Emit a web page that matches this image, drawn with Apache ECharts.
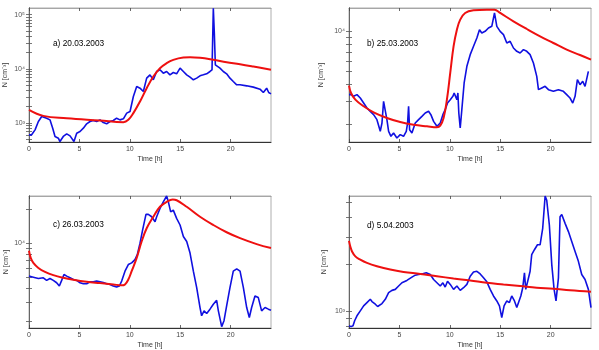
<!DOCTYPE html>
<html>
<head>
<meta charset="utf-8">
<script src="https://cdn.jsdelivr.net/npm/echarts@6/dist/echarts.min.js"></script>
<style>
html, body { margin: 0; padding: 0; background: #fff; }
#chart { width: 599px; height: 350px; }
</style>
</head>
<body>
<div id="chart"></div>
<script>
// x ticks (hours)
const xTickValues = [0, 5, 10, 15, 20];

// a) 20.03.2003
const timeMeasA = [0.00,0.26,0.60,0.93,1.26,1.42,1.75,2.08,2.35,2.58,2.91,3.07,3.40,3.74,4.07,4.23,4.46,4.73,5.06,5.39,5.72,6.05,6.38,6.71,7.04,7.37,7.70,8.03,8.36,8.69,9.02,9.36,9.69,10.02,10.35,10.68,11.01,11.34,11.67,12.00,12.33,12.66,12.99,13.32,13.65,13.98,14.31,14.64,14.98,15.31,15.64,15.97,16.30,16.63,16.96,17.29,17.62,17.95,18.15,18.28,18.38,18.48,18.61,18.94,19.27,19.60,19.93,20.26,20.60,20.93,21.59,22.25,22.91,23.24,23.57,23.77,24.00];
const measA = [605,605,748,1067,1318,1282,1227,1143,803,564,525,455,564,631,579,605,455,649,697,803,966,1067,1112,1067,1143,1021,966,1067,1112,1227,1143,1194,1521,1631,3083,4721,4395,3819,6730,7745,6266,8933,9594,8318,8933,7745,8551,8091,10280,8933,7745,7015,6266,6730,7430,7745,8091,8933,9594,131800,45500,11860,11040,10280,8933,8091,6730,5834,5070,5070,4853,4592,4217,3656,4395,3656,3451];
const timeModA = [0,1.42,3.74,7.04,9.36,9.85,10.35,11.01,11.67,12.33,12.99,13.65,14.31,15.31,15.97,16.96,18.28,19.60,20.93,22.25,24.00];
const modA = [1750,1355,1227,1112,1035,1143,1521,2495,4395,7211,10280,12730,14660,16190,16410,15960,14660,13270,12190,11040,9594];
const yLabelsA = [1000, 10000, 100000];

// b) 25.03.2003
const timeMeasB = [0.00,0.20,0.46,0.79,1.12,1.45,1.78,2.11,2.44,2.77,3.10,3.27,3.43,3.60,3.76,3.93,4.16,4.42,4.75,5.08,5.41,5.68,5.81,5.91,6.01,6.24,6.57,6.90,7.23,7.56,7.89,8.12,8.39,8.72,9.05,9.31,9.54,9.77,10.04,10.30,10.43,10.70,10.80,10.89,11.03,11.19,11.42,11.69,12.02,12.35,12.68,12.94,13.17,13.50,13.83,14.16,14.43,14.66,14.99,15.32,15.65,15.98,16.31,16.64,16.97,17.30,17.63,17.96,18.29,18.62,18.79,19.12,19.45,19.78,20.27,20.77,21.26,21.59,21.92,22.19,22.42,22.65,22.91,23.18,23.41,23.74];
const measB = [3350,3350,3254,3350,3162,2900,2661,2512,2371,2175,1778,2053,2985,2900,2175,1778,1631,1728,1585,1679,1631,1778,2053,2739,1830,1728,2053,2175,2304,2441,2512,2371,2113,1939,2053,2371,2585,2900,3073,3254,3448,3073,3448,2441,1884,2585,4098,5464,6683,7720,8913,10290,9716,10000,10590,10900,13730,10900,10000,9441,8176,8414,7499,7079,6879,7289,7079,6683,5788,4597,3652,3758,3868,3652,3548,3652,3548,3350,3162,2900,3254,4341,3981,4217,3868,5012];
const timeModB = [0,0.20,0.63,1.45,2.44,3.76,5.08,6.40,7.73,8.72,9.05,9.38,9.71,10.04,10.37,10.70,11.03,11.52,12.35,13.67,14.43,14.99,16.31,17.63,18.95,20.27,21.59,22.91,24.00];
const modB = [3914,3449,3073,2740,2469,2239,2089,1995,1939,1905,1961,2239,3073,4870,7720,10290,12230,13730,14370,14540,14540,13730,11890,10410,9173,8176,7289,6646,6132];
const yLabelsB = [10000];

// c) 26.03.2003
const timeMeasC = [0,0.43,0.93,1.42,1.75,2.08,2.41,2.74,3.01,3.24,3.47,3.74,4.07,4.40,4.73,5.06,5.39,5.72,6.05,6.38,6.71,7.04,7.37,7.70,8.03,8.36,8.69,8.96,9.19,9.52,9.85,10.18,10.51,10.74,11.01,11.27,11.60,11.83,12.17,12.50,12.66,12.99,13.32,13.65,13.82,14.05,14.31,14.64,14.98,15.31,15.64,15.97,16.30,16.63,16.96,17.12,17.36,17.62,17.95,18.28,18.61,18.78,19.11,19.34,19.60,19.93,20.26,20.60,20.93,21.26,21.59,21.85,22.08,22.41,22.74,23.07,23.41,23.74,24.00];
const measC = [5082,4977,4842,4912,4656,4842,4656,4436,4150,4656,5260,5082,4912,4742,4656,4436,4345,4345,4532,4532,4592,4532,4467,4345,4289,4150,4064,4150,4592,5623,6442,6668,7125,7889,10000,13120,18030,18030,17180,15520,17180,20370,23330,26300,23330,19010,19670,16630,14510,11460,10340,8160,5623,4009,2669,2254,2495,2364,2582,2858,3097,2495,1803,2037,2761,4009,5623,5902,5623,4009,2669,2178,2669,3381,3273,2495,2669,2582,2529];
const timeModC = [0,0.17,0.43,0.93,1.59,2.41,3.40,4.40,5.72,7.04,8.36,9.19,9.52,9.85,10.18,10.68,11.17,11.67,12.33,12.99,13.65,14.25,14.64,15.64,16.96,18.28,19.60,20.93,22.58,24.00];
const modC = [8556,7383,6668,6014,5543,5184,4912,4721,4532,4407,4289,4206,4289,4742,5623,7383,10340,13560,17180,21080,23330,24450,24100,21080,17180,14510,12500,11070,9797,9036];
const yLabelsC = [10000];

// d) 5.04.2003
const timeMeasD = [0,0.20,0.40,0.56,0.79,1.12,1.45,1.78,2.11,2.28,2.61,2.84,3.27,3.60,3.93,4.26,4.59,4.92,5.25,5.74,6.24,6.57,6.90,7.23,7.66,8.06,8.39,8.72,9.05,9.31,9.54,9.77,10.04,10.37,10.70,11.03,11.36,11.69,12.02,12.35,12.68,13.01,13.34,13.67,14.00,14.33,14.66,14.92,15.15,15.38,15.65,15.91,16.14,16.41,16.64,16.80,17.04,17.23,17.40,17.53,17.70,17.96,18.12,18.39,18.69,18.95,19.21,19.45,19.61,19.87,20.11,20.34,20.53,20.77,20.93,21.10,21.43,21.76,22.09,22.42,22.75,23.08,23.41,23.74,24.00];
const measD = [802,791,802,863,929,1000,1076,1130,1187,1147,1103,1066,1114,1187,1309,1355,1375,1445,1517,1570,1649,1698,1714,1730,1758,1714,1592,1517,1445,1517,1423,1553,1480,1375,1445,1355,1409,1480,1671,1782,1799,1730,1633,1538,1375,1247,1158,1076,906,1076,1158,1130,1247,1158,1050,1050,1247,1409,1758,1375,1342,1799,2301,2477,2667,2667,3405,5500,5162,3574,1986,1375,1158,1633,4036,4178,3664,3243,2798,2415,2085,1714,1592,1375,1050];
const timeModD = [0,0.13,0.30,0.63,1.12,1.78,2.77,4.09,5.41,7.07,8.72,10.37,12.02,13.67,15.32,16.97,18.62,20.27,21.92,24.00];
const modD = [2825,2600,2415,2244,2137,2036,1938,1845,1782,1730,1671,1617,1570,1517,1480,1445,1409,1389,1356,1328];
const yLabelsD = [1000];

const panelTitles = ['a) 20.03.2003', 'b) 25.03.2003', 'c) 26.03.2003', 'd) 5.04.2003'];

// layout of the four panels
const panels = [
    { left: 29,  top: 8,   yMin: 446,  yMax: 132700, nameGap: 20, tx: 53,  ty: 44.5, t: timeMeasA, m: measA, tm: timeModA, r: modA, labels: yLabelsA },
    { left: 349, top: 8,   yMin: 1479, yMax: 14960,  nameGap: 24, tx: 367, ty: 44.5, t: timeMeasB, m: measB, tm: timeModB, r: modB, labels: yLabelsB },
    { left: 29,  top: 196, yMin: 1754, yMax: 26300,  nameGap: 19, tx: 53,  ty: 226,  t: timeMeasC, m: measC, tm: timeModC, r: modC, labels: yLabelsC },
    { left: 349, top: 196, yMin: 775,  yMax: 5500,   nameGap: 21, tx: 367, ty: 226.5, t: timeMeasD, m: measD, tm: timeModD, r: modD, labels: yLabelsD }
];

const FONT = 'Liberation Sans, Arial, sans-serif';
const sup = { '-': '⁻', '0': '⁰', '1': '¹', '2': '²', '3': '³', '4': '⁴', '5': '⁵', '6': '⁶', '7': '⁷', '8': '⁸', '9': '⁹' };
function powLabel(v) {
    const e = Math.round(Math.log10(v));
    return '10' + String(e).split('').map(c => sup[c]).join('');
}
// minor tick positions of a log axis (1..9 x 10^n inside the range)
function logTicks(min, max) {
    const out = [];
    for (let e = Math.floor(Math.log10(min)); e <= Math.ceil(Math.log10(max)); e++) {
        for (let k = 1; k < 10; k++) {
            const v = k * Math.pow(10, e);
            if (v >= min && v <= max) out.push(v);
        }
    }
    return out;
}
function zip(t, v) { return t.map((x, i) => [x, v[i]]); }

const chart = echarts.init(document.getElementById('chart'));

const grid = [], xAxis = [], yAxis = [], series = [], graphic = [];
panels.forEach((p, i) => {
    grid.push({ left: p.left, top: p.top, width: 242, height: 134, show: true, borderColor: '#999', borderWidth: 0.8 });
    const xBase = {
        type: 'value', gridIndex: i, min: 0, max: 24,
        splitLine: { show: false },
        axisLine: { lineStyle: { color: '#333', width: 1 } },
        axisTick: { inside: true, length: 3, customValues: xTickValues, lineStyle: { color: '#444', width: 0.8 } }
    };
    xAxis.push(Object.assign({}, xBase, {
        position: 'bottom',
        axisLabel: { customValues: xTickValues, fontSize: 7, color: '#444', margin: 4, fontFamily: FONT },
        name: 'Time [h]', nameLocation: 'middle', nameGap: 14,
        nameTextStyle: { fontSize: 7, color: '#333', fontFamily: FONT }
    }));
    xAxis.push(Object.assign({}, xBase, {
        position: 'top', axisLabel: { show: false },
        axisLine: { lineStyle: { color: '#999', width: 0.8 } }
    }));
    const ticks = logTicks(p.yMin, p.yMax);
    const yBase = {
        type: 'log', logBase: 10, gridIndex: i, min: p.yMin, max: p.yMax,
        splitLine: { show: false }, minorTick: { show: false },
        axisTick: { inside: true, length: 3, customValues: ticks, lineStyle: { color: '#555', width: 0.8 } }
    };
    yAxis.push(Object.assign({}, yBase, {
        position: 'left',
        axisLine: { show: true, lineStyle: { color: '#333', width: 1 } },
        axisLabel: { customValues: p.labels, formatter: powLabel, fontSize: 7, color: '#555', margin: 4, fontFamily: FONT },
        name: 'N [cm⁻³]', nameLocation: 'middle', nameGap: p.nameGap, nameRotate: 90,
        nameTextStyle: { fontSize: 7, color: '#333', fontFamily: FONT }
    }));
    yAxis.push(Object.assign({}, yBase, {
        position: 'right',
        axisLine: { show: true, lineStyle: { color: '#666', width: 1 } },
        axisLabel: { show: false }
    }));
    series.push({
        type: 'line', xAxisIndex: 2 * i, yAxisIndex: 2 * i, data: zip(p.t, p.m),
        showSymbol: false, lineStyle: { color: '#1010e0', width: 1.6 }, z: 2
    });
    series.push({
        type: 'line', xAxisIndex: 2 * i, yAxisIndex: 2 * i, data: zip(p.tm, p.r),
        showSymbol: false, smooth: 0.4, lineStyle: { color: '#ee1010', width: 2 }, z: 3
    });
    graphic.push({
        type: 'text', left: p.tx, top: p.ty - 5,
        style: { text: panelTitles[i], fontSize: 8.3, fill: '#000', fontFamily: FONT }
    });
});

chart.setOption({
    animation: false,
    backgroundColor: '#fff',
    grid: grid,
    xAxis: xAxis,
    yAxis: yAxis,
    series: series,
    graphic: graphic
});
</script>
</body>
</html>
